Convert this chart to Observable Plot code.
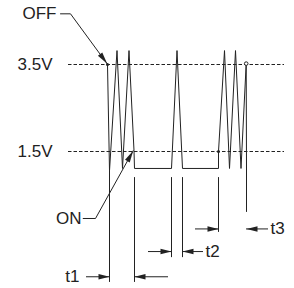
<!DOCTYPE html>
<html>
<head>
<meta charset="utf-8">
<script src="https://cdn.jsdelivr.net/npm/d3@7"></script>
<script src="https://cdn.jsdelivr.net/npm/@observablehq/plot@0.6"></script>
<style>
  html, body { margin: 0; padding: 0; background: #fff; }
  #chart svg { display: block; }
</style>
</head>
<body>
<div id="chart"></div>
<script>
// ---- data (time in arbitrary units, level in volts) ----
const waveT = [107, 109, 116.5, 122, 128.5, 133.5, 134, 171, 176.5, 182, 218, 218, 224, 229, 235, 240.5, 245.7, 246];
const waveV = [3.5, 1.06, 3.82, 1.11, 3.82, 1.52, 1.11, 1.11, 3.82, 1.11, 1.11, 1.5, 3.82, 1.11, 3.82, 1.11, 3.52, 1.11];

const thresholdV = [3.5, 1.5];
const thresholdLabels = ["3.5V", "1.5V"];
const thresholdStart = 68, thresholdEnd = 284;

// extension (witness) lines
const extT = [109, 134, 171, 182, 218, 246];
const extTop = [1.06, 0.90, 0.90, 0.90, 0.90, 1.11];
const extBottom = [-1.51, -1.51, -0.94, -0.94, -0.36, 0.10];

// dimension arrows t1, t2, t3
const dimLabels = ["t1", "t2", "t3"];
const dimV = [-1.38, -0.80, -0.28];
const dimLeftTail = [86, 148, 195];
const dimLeftTip = [109, 171, 218];
const dimRightTip = [134, 182, 246];
const dimRightTail = [168, 203, 268];
const dimLabelT = [79, 205, 270];
const dimLabelAnchor = ["end", "start", "start"];

// callouts
const calloutLabels = ["OFF", "ON"];
const calloutT = [[60, 70, 106.7], [82.7, 95, 132.7]];
const calloutV = [[4.665, 4.665, 3.515], [-0.04, -0.04, 1.52]];
const calloutLabelT = [56, 81];

// marker points
const dotT = [107, 218];
const dotV = [3.5, 1.5];
const ringT = [245.7];
const ringV = [3.52];

// ---- scales ----
const xOpt = {domain: [0, 294], range: [0, 294]};
const yOpt = {domain: [1.5, 3.5], range: [151, 64]};
const xs = d3.scaleLinear(xOpt.domain, xOpt.range);
const ys = d3.scaleLinear(yOpt.domain, yOpt.range);

const ink = "#222";
const font = "'Liberation Sans', Arial, Helvetica, sans-serif";

function head(angle, L = 11, W = 2.7) {
  const c = Math.cos(angle), s = Math.sin(angle);
  return {
    draw(ctx) {
      ctx.moveTo(0, 0);
      ctx.lineTo(-L * c - W * s, -L * s + W * c);
      ctx.lineTo(-L * c + W * s, -L * s - W * c);
      ctx.closePath();
    }
  };
}

const wave = waveT.map((t, i) => ({t, v: waveV[i]}));
const thresholds = thresholdV.map((v, i) => ({v, label: thresholdLabels[i]}));
const ext = extT.map((t, i) => ({t, y1: extTop[i], y2: extBottom[i]}));
const dims = dimLabels.map((label, i) => ({
  label, v: dimV[i],
  lt: dimLeftTail[i], lp: dimLeftTip[i], rp: dimRightTip[i], rt: dimRightTail[i],
  tx: dimLabelT[i], anchor: dimLabelAnchor[i]
}));
const callouts = [];
calloutLabels.forEach((label, i) => {
  calloutT[i].forEach((t, j) => callouts.push({label, t, v: calloutV[i][j]}));
});
const calloutTips = calloutLabels.map((label, i) => {
  const n = calloutT[i].length;
  const x0 = xs(calloutT[i][n - 2]), y0 = ys(calloutV[i][n - 2]);
  const x1 = xs(calloutT[i][n - 1]), y1 = ys(calloutV[i][n - 1]);
  return {label, t: calloutT[i][n - 1], v: calloutV[i][n - 1], angle: Math.atan2(y1 - y0, x1 - x0)};
});
const calloutText = calloutLabels.map((label, i) => ({label, t: calloutLabelT[i], v: calloutV[i][0]}));

const chart = Plot.plot({
  width: 294,
  height: 288,
  x: {...xOpt, axis: null},
  y: {...yOpt, axis: null},
  style: {background: "#fff", fontFamily: font, overflow: "visible"},
  marks: [
    // dashed threshold lines
    Plot.ruleY(thresholds, {y: "v", x1: thresholdStart, x2: thresholdEnd, stroke: ink, strokeWidth: 1, strokeDasharray: "3.5,2"}),
    Plot.text(thresholds, {x: 52, y: "v", text: "label", textAnchor: "end", fontSize: 17, fill: ink, fontFamily: font}),
    // waveform
    Plot.line(wave, {x: "t", y: "v", stroke: ink, strokeWidth: 1, curve: "linear"}),
    // extension lines
    Plot.ruleX(ext, {x: "t", y1: "y1", y2: "y2", stroke: ink, strokeWidth: 1}),
    // dimension arrow shafts
    Plot.ruleY(dims, {y: "v", x1: "lt", x2: "lp", stroke: ink, strokeWidth: 1}),
    Plot.ruleY(dims, {y: "v", x1: "rp", x2: "rt", stroke: ink, strokeWidth: 1}),
    Plot.dot(dims, {x: "lp", y: "v", symbol: head(0), fill: ink, stroke: "none"}),
    Plot.dot(dims, {x: "rp", y: "v", symbol: head(Math.PI), fill: ink, stroke: "none"}),
    Plot.text(dims.filter(d => d.anchor === "end"), {x: "tx", y: "v", text: "label", textAnchor: "end", fontSize: 17, fill: ink, fontFamily: font}),
    Plot.text(dims.filter(d => d.anchor === "start"), {x: "tx", y: "v", text: "label", textAnchor: "start", fontSize: 17, fill: ink, fontFamily: font}),
    // callouts
    Plot.line(callouts, {x: "t", y: "v", z: "label", stroke: ink, strokeWidth: 1}),
    ...calloutTips.map(d => Plot.dot([d], {x: "t", y: "v", symbol: head(d.angle, 12, 2.7), fill: ink, stroke: "none"})),
    Plot.text(calloutText, {x: "t", y: "v", text: "label", textAnchor: "end", fontSize: 17, fill: ink, fontFamily: font}),
    // marker points
    Plot.dot(dotT.map((t, i) => ({t, v: dotV[i]})), {x: "t", y: "v", r: 1.5, fill: ink, stroke: "none"}),
    Plot.dot(ringT.map((t, i) => ({t, v: ringV[i]})), {x: "t", y: "v", r: 1.8, fill: "#fff", stroke: ink, strokeWidth: 1})
  ]
});
document.getElementById("chart").appendChild(chart);
</script>
</body>
</html>
